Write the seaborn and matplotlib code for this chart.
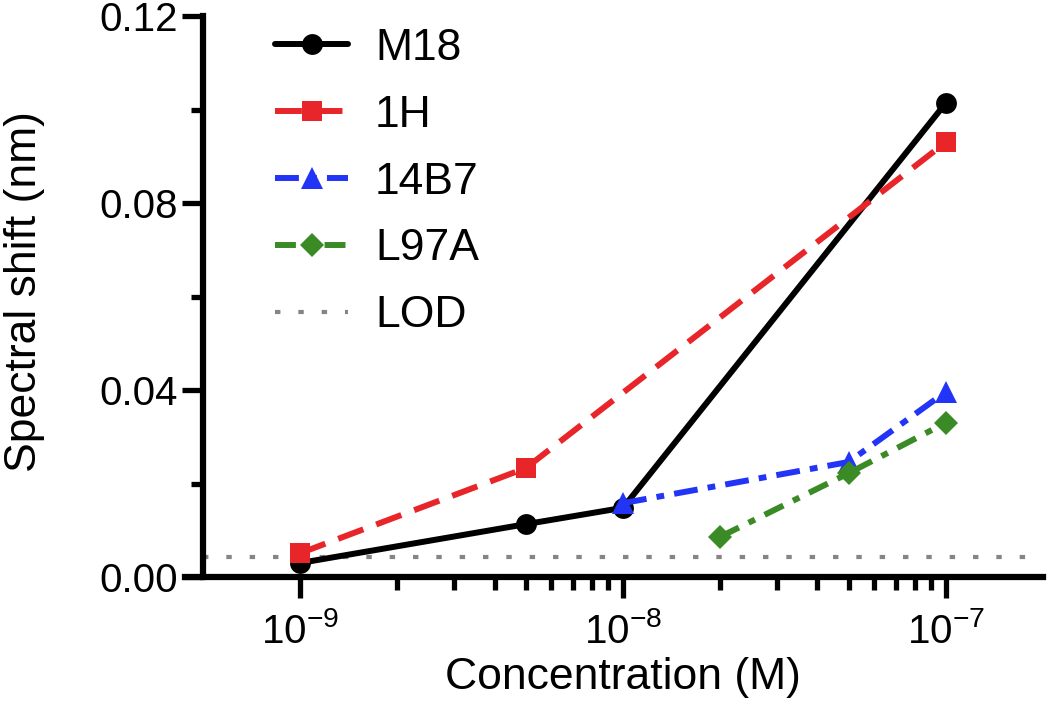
import matplotlib
matplotlib.use("Agg")
import matplotlib.pyplot as plt
import matplotlib.ticker as ticker
import numpy as np
import pandas as pd
import seaborn as sns

# concentrations (M) and spectral shift (nm)
m18_conc = [1e-9, 5e-9, 1e-8, 1e-7]
m18_shift = [0.0030, 0.0113, 0.0148, 0.1014]
h1_conc = [1e-9, 5e-9, 1e-7]
h1_shift = [0.0051, 0.0233, 0.0930]
b7_conc = [1e-8, 5e-8, 1e-7]
b7_shift = [0.0158, 0.0246, 0.0396]
l97a_conc = [2e-8, 5e-8, 1e-7]
l97a_shift = [0.0086, 0.0222, 0.0330]
lod = 0.0043

series_names = ["M18", "1H", "14B7", "L97A"]
xtick_vals = [1e-9, 1e-8, 1e-7]
xtick_labels = [r"$\mathregular{10^{-9}}$", r"$\mathregular{10^{-8}}$", r"$\mathregular{10^{-7}}$"]
ytick_vals = [0.0, 0.04, 0.08, 0.12]
ytick_labels = ["0.00", "0.04", "0.08", "0.12"]

sns.set_style("ticks")
plt.rcParams["font.family"] = ["Liberation Sans", "DejaVu Sans"]
plt.rcParams["mathtext.fontset"] = "custom"
plt.rcParams["mathtext.rm"] = "Liberation Sans"
plt.rcParams["mathtext.it"] = "Liberation Sans:italic"
plt.rcParams["mathtext.bf"] = "Liberation Sans:bold"
plt.rcParams["text.color"] = "black"
plt.rcParams["axes.labelcolor"] = "black"
plt.rcParams["xtick.color"] = "black"
plt.rcParams["ytick.color"] = "black"

FS = 32
TICK_FS = 29
LW = 4.3

fig = plt.figure(figsize=(10.5, 7.25), dpi=100)
ax = fig.add_axes([203 / 1050, 1 - 577 / 725, (1043 - 203) / 1050, (577 - 16) / 725])

styles = {
    "M18": dict(color="black", marker="o", ls="-", ms=15),
    "1H": dict(color="#e8262a", marker="s", ls=(0, (4.5, 2.3)), ms=15),
    "14B7": dict(color="#2234f5", marker="^", ls=(0, (4.0, 1.7, 1.3, 1.7)), ms=16),
    "L97A": dict(color="#3a8a26", marker="D", ls=(0, (3.5, 1.8, 1.2, 1.8)), ms=12),
}
data = {
    "M18": (m18_conc, m18_shift),
    "1H": (h1_conc, h1_shift),
    "14B7": (b7_conc, b7_shift),
    "L97A": (l97a_conc, l97a_shift),
}

lod_line = ax.axhline(lod, color="#858585", lw=3, ls=(0, (1.3, 4.3)), zorder=1)

handles = []
for k, name in enumerate(series_names):
    xs, ys = data[name]
    df = pd.DataFrame({"conc": xs, "shift": ys})
    st = styles[name]
    sns.lineplot(data=df, x="conc", y="shift", ax=ax, color=st["color"],
                 marker=st["marker"], markersize=st["ms"], markeredgewidth=0,
                 linestyle=st["ls"], linewidth=LW, zorder=2 + k, clip_on=False,
                 errorbar=None, legend=False)
    handles.append(ax.lines[-1])

ax.set_xscale("log")
ax.set_xlim(5e-10, 2e-7)
ax.set_ylim(0, 0.12)

ax.xaxis.set_major_locator(ticker.FixedLocator(xtick_vals))
ax.xaxis.set_major_formatter(ticker.FixedFormatter(xtick_labels))
minor = [m * d for d in [1e-9, 1e-8] for m in range(2, 10)]
ax.xaxis.set_minor_locator(ticker.FixedLocator(minor))
ax.xaxis.set_minor_formatter(ticker.NullFormatter())

ax.yaxis.set_major_locator(ticker.FixedLocator(ytick_vals))
ax.yaxis.set_major_formatter(ticker.FixedFormatter(ytick_labels))
ax.yaxis.set_minor_locator(ticker.MultipleLocator(0.02))

sns.despine(ax=ax)
for s in ["left", "bottom"]:
    ax.spines[s].set_linewidth(4.5)
    ax.spines[s].set_color("black")
ax.spines["bottom"].set_bounds(4.4e-10, 2e-7)

ax.tick_params(axis="both", which="major", length=15, width=3.8,
               labelsize=TICK_FS, pad=3)
ax.tick_params(axis="x", which="major", pad=10)
ax.tick_params(axis="both", which="minor", length=9, width=3.8)

ax.set_xlabel("Concentration (M)", fontsize=FS)
ax.set_ylabel("Spectral shift (nm)", fontsize=FS)
ax.xaxis.set_label_coords(0.5, -0.143)
ax.yaxis.set_label_coords(-0.188, 0.508)

leg = fig.legend(handles + [lod_line], series_names + ["LOD"],
                 loc="upper left", bbox_to_anchor=(275 / 1050, 1 - 28 / 725),
                 frameon=False, fontsize=FS, handlelength=1.65,
                 handletextpad=0.6, labelspacing=0.58, borderpad=0,
                 borderaxespad=0, numpoints=1)

fig.savefig("out.png", dpi=100)
